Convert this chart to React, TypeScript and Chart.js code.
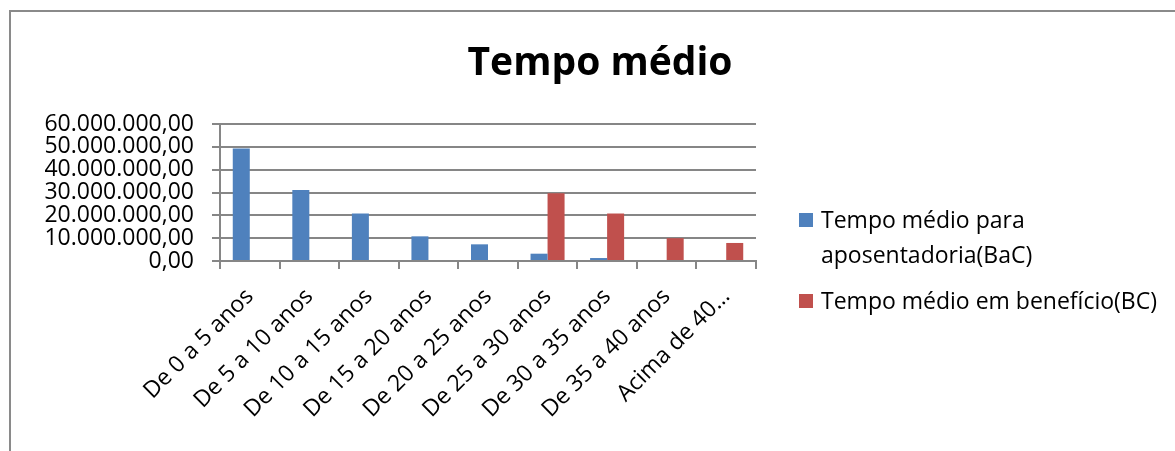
import React, { useEffect, useRef } from "react";
import { Chart, registerables } from "chart.js";

Chart.register(...registerables);

const TITLE = "Tempo médio";
const categories = [
  "De 0 a 5 anos",
  "De 5 a 10 anos",
  "De 10 a 15 anos",
  "De 15 a 20 anos",
  "De 20 a 25 anos",
  "De 25 a 30 anos",
  "De 30 a 35 anos",
  "De 35 a 40 anos",
  "Acima de 40 anos",
];
const seriesBaC = [49300000, 31100000, 20800000, 10800000, 7300000, 3200000, 1300000, 0, 0];
const seriesBC = [0, 0, 0, 0, 0, 29700000, 20800000, 10000000, 7900000];
const seriesNames = ["Tempo médio para aposentadoria(BaC)", "Tempo médio em benefício(BC)"];
const legendLines = [["Tempo médio para", "aposentadoria(BaC)"], ["Tempo médio em benefício(BC)"]];
const yTicks = [0, 10000000, 20000000, 30000000, 40000000, 50000000, 60000000];

const BLUE = "#4F81BD";
const RED = "#C0504D";
const GRID = "#868686";
const FONT = "'Open Sans', sans-serif";
const FS = 23;

function formatBR(v: number): string {
  const s = Math.round(v).toString();
  return s.replace(/\B(?=(\d{3})+(?!\d))/g, ".") + ",00";
}

const decorPlugin = {
  id: "decor",
  afterDraw(chart: any) {
    const ctx = chart.ctx;
    ctx.save();
    // outer frame (top and left)
    ctx.fillStyle = "#8a8a8a";
    ctx.fillRect(9, 10, 1175, 2);
    ctx.fillRect(9, 10, 2, 451);
    // title
    ctx.fillStyle = "#000";
    ctx.font = `bold 39px ${FONT}`;
    ctx.textAlign = "center";
    ctx.textBaseline = "alphabetic";
    ctx.fillText(TITLE, 600, 75);
    // legend
    ctx.font = `${FS}px ${FONT}`;
    ctx.textAlign = "left";
    const colors = chart.data.datasets.map((d: any) => d.backgroundColor);
    const itemTops = [213, 294];
    const lineGap = 35;
    legendLines.forEach((lines, i) => {
      const top = itemTops[i];
      ctx.fillStyle = colors[i];
      ctx.fillRect(799, top, 14, 14);
      ctx.fillStyle = "#000";
      lines.forEach((ln, j) => {
        ctx.fillText(ln, 821, top + 15 + j * lineGap);
      });
    });
    ctx.restore();
  },
};

export default function App() {
  const ref = useRef<HTMLCanvasElement | null>(null);
  useEffect(() => {
    if (!ref.current) return;
    const chart = new Chart(ref.current, {
      type: "bar",
      data: {
        labels: categories,
        datasets: [
          {
            label: seriesNames[0],
            data: seriesBaC,
            backgroundColor: BLUE,
            borderWidth: 0,
            categoryPercentage: 2 / 3.5,
            barPercentage: 1,
          },
          {
            label: seriesNames[1],
            data: seriesBC,
            backgroundColor: RED,
            borderWidth: 0,
            categoryPercentage: 2 / 3.5,
            barPercentage: 1,
          },
        ],
      },
      options: {
        responsive: false,
        animation: false,
        devicePixelRatio: 1,
        layout: { padding: { left: 0, top: 124, right: 1175 - 756, bottom: 0 } },
        plugins: {
          legend: { display: false },
          title: { display: false },
          tooltip: { enabled: false },
        },
        scales: {
          x: {
            afterFit(scale: any) {
              scale.height = 451 - 261;
            },
            grid: {
              display: true,
              drawOnChartArea: false,
              drawTicks: true,
              tickLength: 8,
              offset: true,
              color: GRID,
              lineWidth: 2,
            },
            border: { display: true, color: GRID, width: 2 },
            ticks: {
              autoSkip: false,
              minRotation: 45,
              maxRotation: 45,
              padding: 14,
              color: "#000",
              font: { family: FONT, size: FS },
              callback(this: any, value: any) {
                const lbl = String(this.getLabelForValue(value));
                return lbl.length > 15 ? lbl.slice(0, 11) + "…" : lbl;
              },
            },
          },
          y: {
            min: yTicks[0],
            max: yTicks[yTicks.length - 1],
            afterFit(scale: any) {
              scale.width = 220;
            },
            afterBuildTicks(scale: any) {
              scale.ticks = yTicks.map((v) => ({ value: v }));
            },
            grid: {
              color: GRID,
              lineWidth: 2,
              drawTicks: true,
              tickLength: 8,
            },
            border: { display: true, color: GRID, width: 2 },
            ticks: {
              autoSkip: false,
              padding: 18,
              color: "#000",
              font: { family: FONT, size: FS },
              callback(value: any) {
                return formatBR(Number(value));
              },
            },
          },
        },
      },
      plugins: [decorPlugin],
    });
    return () => chart.destroy();
  }, []);
  return (
    <div style={{ position: "absolute", left: 0, top: 0, width: 1175, height: 451, overflow: "hidden", background: "#fff" }}>
      <canvas ref={ref} width={1175} height={451} style={{ width: 1175, height: 451, display: "block" }} />
    </div>
  );
}
